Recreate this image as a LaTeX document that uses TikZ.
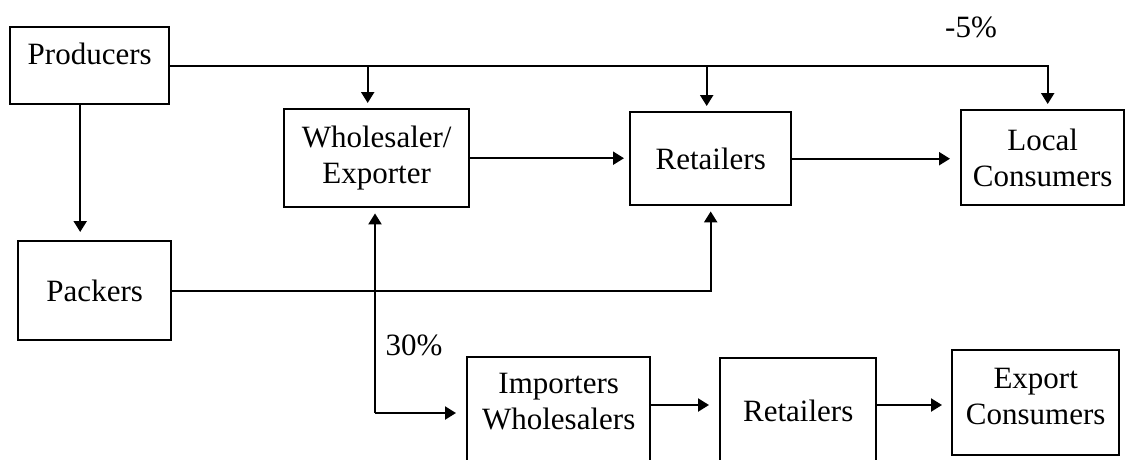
\documentclass[tikz,border=0pt]{standalone}
\usepackage{fontspec}
\setmainfont{Liberation Serif}
\usetikzlibrary{arrows.meta}
\tikzset{
  box/.style={draw, line width=2.4pt, inner sep=0pt, anchor=north west, align=center,
    font=\fontsize{31}{36}\selectfont},
  arr/.style={line width=2.2pt, -{Triangle[length=11pt,width=13pt]}, shorten >=5pt},
  lbl/.style={font=\fontsize{31}{36}\selectfont, inner sep=0pt}
}
\begin{document}
\begin{tikzpicture}[x=1pt,y=-1pt]
\useasboundingbox (0,0) rectangle (1126,459);
\clip (0,0) rectangle (1126,459);
% boxes
\node[box, minimum width=159pt, text height=37pt, text depth=40pt] (prod) at (9,26) {Producers};
\node[box, minimum width=185pt, minimum height=98pt] (whole) at (283,108) {Wholesaler/\\Exporter};
\node[box, minimum width=161pt, minimum height=93pt] (ret1) at (629,111) {Retailers};
\node[box, minimum width=163pt, minimum height=95pt] (local) at (960,109) {Local\\Consumers};
\node[box, minimum width=153pt, minimum height=99pt] (pack) at (17,240) {Packers};
\node[box, minimum width=183pt, text height=72pt, text depth=42pt] (imp) at (466,356) {Importers\\Wholesalers};
\node[box, minimum width=156pt, text height=63pt, text depth=50pt] (ret2) at (719,357) {Retailers};
\node[box, minimum width=167pt, text height=74pt, text depth=31pt] (exp) at (951,349) {Export\\Consumers};
% labels
\node[lbl] (m5) at (971,27) {-5\%};
\node[lbl] (p30) at (414,345) {30\%};
% connectors
\draw[arr] (prod.east) -| ([xshift=5pt]local.north);
\draw[arr] ([xshift=-9pt]whole.north |- prod.east) -- ([xshift=-9pt]whole.north);
\draw[arr] ([xshift=-4pt]ret1.north |- prod.east) -- ([xshift=-4pt]ret1.north);
\draw[arr] (whole.east) -- (whole.east -| ret1.west);
\draw[arr, shorten >=10pt] (ret1.east) -- (ret1.east -| local.west);
\draw[arr, shorten >=8pt] ([xshift=-14.5pt]pack.north |- prod.south) -- ([xshift=-14.5pt]pack.north);
\draw[arr] (pack.east) -| (ret1.south);
\coordinate (corner) at (375,413);
\draw[arr] (corner) -- (corner |- whole.south);
\draw[arr, shorten >=10pt] (corner) -- (corner -| imp.west);
\coordinate (low) at (0,405);
\draw[arr, shorten >=10pt] (imp.east |- low) -- (ret2.west |- low);
\draw[arr, shorten >=9pt] (ret2.east |- low) -- (exp.west |- low);
\end{tikzpicture}
\end{document}
